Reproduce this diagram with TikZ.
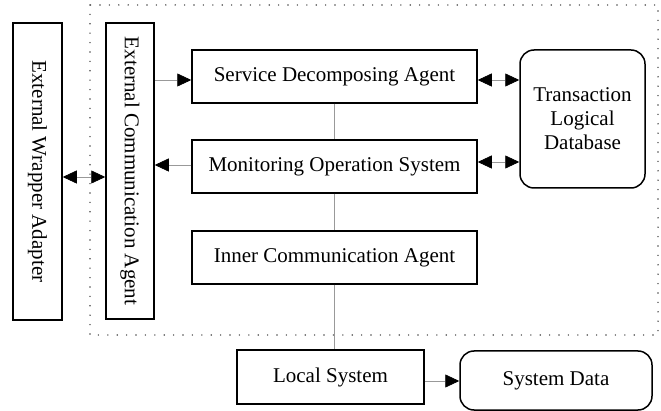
\documentclass[tikz,border=0pt]{standalone}
\usepackage{fontspec}
\setmainfont{Liberation Serif}
\usetikzlibrary{arrows.meta}
\begin{document}
\begin{tikzpicture}[x=1pt,y=-1pt,
  box/.style={draw=black,line width=1.5pt,inner sep=0pt,font=\fontsize{21}{24}\selectfont},
  rbox/.style={box,rounded corners=14pt},
  vtext/.style={rotate=-90,font=\fontsize{21}{24}\selectfont},
  conn/.style={draw=gray!80,line width=0.7pt},
  tip/.style={-{Triangle[length=14pt,width=13pt,color=black]}},
  tips/.style={{Triangle[length=14pt,width=13pt,color=black]}-{Triangle[length=14pt,width=13pt,color=black]}}
]
\useasboundingbox (0,0) rectangle (661,411);
% dotted frame
\draw[gray!60!black,line width=1.6pt,line cap=round,dash pattern=on 0pt off 9.4pt] (90,5) rectangle (658,335);
% nodes
\node[box,minimum width=49pt,minimum height=297pt] (ewa) at (37.5,171.5) {};
\node[vtext] (ewat) at (ewa.center) {External Wrapper Adapter};
\node[box,minimum width=48pt,minimum height=296pt] (eca) at (130,171) {};
\node[vtext] (ecat) at (eca.center) {External Communication Agent};
\node[box,minimum width=285pt,minimum height=53pt] (sda) at (334.5,76.5) {Service Decomposing Agent};
\node[box,minimum width=285pt,minimum height=53pt] (mos) at (334.5,166.5) {Monitoring Operation System};
\node[box,minimum width=285pt,minimum height=53pt] (ica) at (334.5,257.5) {Inner Communication Agent};
\node[rbox,minimum width=125pt,minimum height=138pt,align=center] (tld) at (582.5,119) {Transaction\\Logical\\Database};
\node[box,minimum width=187pt,minimum height=54pt] (ls) at (330.5,377) {Local System};
\node[rbox,minimum width=192pt,minimum height=59pt] (sd) at (556,380.5) {System Data};
% connectors
\draw[conn] (sda.south) -- (mos.north);
\draw[conn] (mos.south) -- (ica.north);
\draw[conn] (ica.south) -- (ica.south |- ls.north);
\draw[conn,tip] (eca.east |- 0,80) -- (sda.west |- 0,80);
\draw[conn,tip] (mos.west |- 0,165) -- (eca.east |- 0,165);
\draw[conn,tips] (ewa.east |- 0,177) -- (eca.west |- 0,177);
\draw[conn,tips] (sda.east |- 0,80) -- (tld.west |- 0,80);
\draw[conn,tips] (mos.east |- 0,162) -- (tld.west |- 0,162);
\draw[conn,tip] (ls.east |- 0,381) -- (sd.west |- 0,381);
\end{tikzpicture}
\end{document}
